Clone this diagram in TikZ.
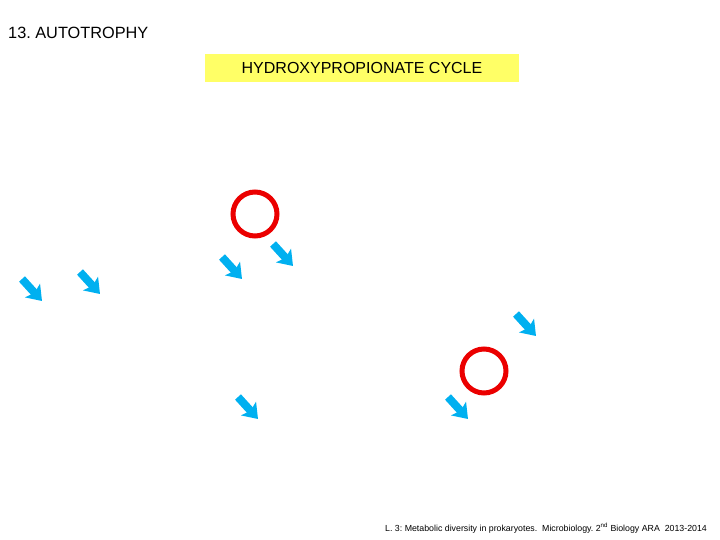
\documentclass[tikz,border=0pt]{standalone}
\usepackage{fontspec}
\setmainfont{Liberation Sans}
\usetikzlibrary{arrows.meta}
\definecolor{arrblue}{RGB}{0,176,240}
\definecolor{ringred}{RGB}{235,0,0}
\definecolor{titleyellow}{RGB}{255,255,102}
\frenchspacing
\begin{document}
\begin{tikzpicture}[x=1pt,y=-1pt,
  bluearrow/.style={arrblue,line width=8pt,-{Triangle[width=20pt,length=14pt,inset=3pt]}},
  ring/.style={draw=ringred,line width=5pt,circle,minimum size=44pt,inner sep=0pt}]
\useasboundingbox (0,0) rectangle (720,540);
\node[anchor=west,font=\fontsize{16.3}{18}\selectfont,inner sep=0pt] (title) at (8,33) {13. AUTOTROPHY};
\node[fill=titleyellow,minimum width=314pt,minimum height=28pt,inner sep=0pt,font=\fontsize{16}{18}\selectfont] (box) at (362,68) {HYDROXYPROPIONATE CYCLE};
\node[ring] (r1) at (255,214) {};
\node[ring] (r2) at (484,371) {};
\foreach \i/\x/\y in {a/22/279, b/80/272, c/222/257, d/273/244, e/516/314, f/238/397, g/448/397}{
  \coordinate (s\i) at (\x,\y);
  \coordinate (t\i) at (\x+20,\y+22);
  \draw[bluearrow] (s\i) -- (t\i);
}
\node[anchor=west,inner sep=0pt,font=\fontsize{8.8}{10}\selectfont] (foot) at (385,528) {L. 3: Metabolic diversity in prokaryotes.\ \ Microbiology. 2\textsuperscript{nd} Biology ARA\ \ 2013-2014};
\end{tikzpicture}
\end{document}
